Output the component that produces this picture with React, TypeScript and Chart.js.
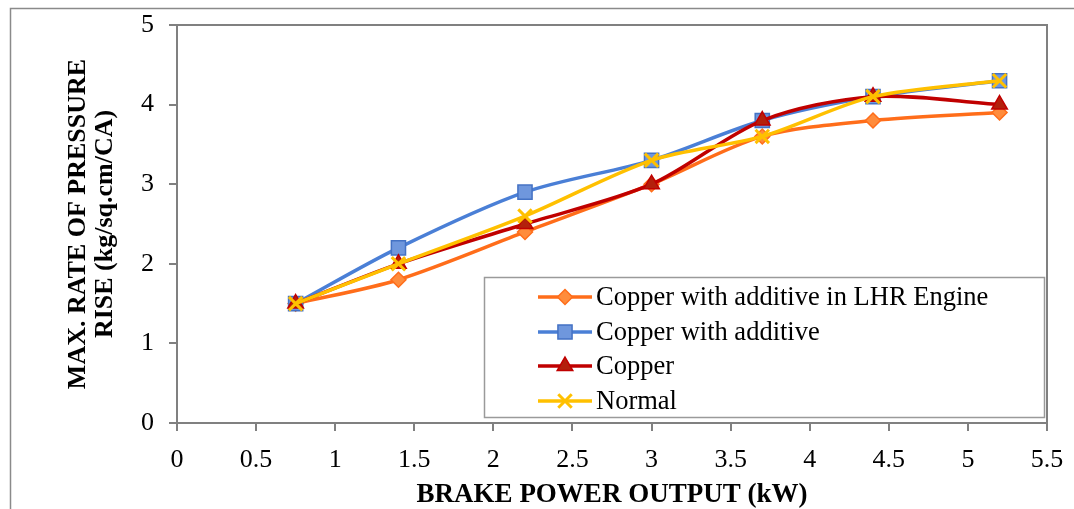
import React, { useEffect, useRef } from 'react';
import { Chart, registerables } from 'chart.js';
import { drawPoint } from 'chart.js/helpers';

Chart.register(...registerables);

const brakePower = [0.75, 1.4, 2.2, 3, 3.7, 4.4, 5.2];
const lhrValues = [1.5, 1.8, 2.4, 3.0, 3.6, 3.8, 3.9];
const additiveValues = [1.5, 2.2, 2.9, 3.3, 3.8, 4.1, 4.3];
const copperValues = [1.5, 2.0, 2.5, 3.0, 3.8, 4.1, 4.0];
const normalValues = [1.5, 2.0, 2.6, 3.3, 3.6, 4.1, 4.3];
const seriesLabels = ['Copper with additive in LHR Engine', 'Copper with additive', 'Copper', 'Normal'];
const yTitleLines = ['MAX. RATE OF PRESSURE', 'RISE (kg/sq.cm/CA)'];
const xTitle = 'BRAKE POWER OUTPUT (kW)';

const FONT = '"Liberation Serif", "Times New Roman", serif';
const AXIS = '#808080';

const toPoints = (ys: number[]) => brakePower.map((x, i) => ({ x, y: ys[i] }));

const decorPlugin = {
  id: 'decor',
  afterDraw(chart: any) {
    const ctx = chart.ctx as CanvasRenderingContext2D;
    const area = chart.chartArea;
    ctx.save();
    // outer frame
    ctx.strokeStyle = '#8a8a8a';
    ctx.lineWidth = 1.5;
    ctx.strokeRect(10.5, 8.5, 3000, 3000);
    // plot top/right border
    ctx.strokeStyle = AXIS;
    ctx.lineWidth = 2;
    ctx.beginPath();
    ctx.moveTo(area.left, area.top);
    ctx.lineTo(area.right, area.top);
    ctx.lineTo(area.right, area.bottom);
    ctx.stroke();

    // legend
    const lx = 484.5, ly = 277.5, lw = 560, lh = 140;
    ctx.fillStyle = '#ffffff';
    ctx.fillRect(lx, ly, lw, lh);
    ctx.strokeStyle = '#9a9a9a';
    ctx.lineWidth = 1.5;
    ctx.strokeRect(lx, ly, lw, lh);
    const rows = [297, 332, 366, 401];
    chart.data.datasets.forEach((ds: any, i: number) => {
      const y = rows[i];
      ctx.strokeStyle = ds.borderColor;
      ctx.lineWidth = ds.borderWidth;
      ctx.beginPath();
      ctx.moveTo(538, y);
      ctx.lineTo(592, y);
      ctx.stroke();
      ctx.fillStyle = ds.pointBackgroundColor;
      ctx.strokeStyle = ds.pointBorderColor;
      ctx.lineWidth = ds.pointBorderWidth;
      drawPoint(ctx, { pointStyle: ds.pointStyle, radius: ds.pointRadius, rotation: 0, borderWidth: ds.pointBorderWidth }, 565, y);
      ctx.fillStyle = '#000000';
      ctx.font = `26.5px ${FONT}`;
      ctx.textAlign = 'left';
      ctx.textBaseline = 'middle';
      ctx.fillText(ds.label, 596, y + 1);
    });

    // axis titles
    ctx.fillStyle = '#000000';
    ctx.font = `bold 27px ${FONT}`;
    ctx.textAlign = 'center';
    ctx.textBaseline = 'middle';
    ctx.fillText(xTitle, (area.left + area.right) / 2, 495);
    ctx.font = `bold 26px ${FONT}`;
    const cy = (area.top + area.bottom) / 2;
    yTitleLines.forEach((t, i) => {
      ctx.save();
      ctx.translate(78 + i * 27, cy);
      ctx.rotate(-Math.PI / 2);
      ctx.fillText(t, 0, 0);
      ctx.restore();
    });
    ctx.restore();
  },
};

export default function App() {
  const ref = useRef<HTMLCanvasElement | null>(null);
  useEffect(() => {
    if (!ref.current) return;
    const mk = (label: string, ys: number[], color: string, fill: string, border: string, style: string, r: number, order: number) => ({
      label,
      data: toPoints(ys),
      borderColor: color,
      backgroundColor: color,
      borderWidth: 3.5,
      tension: 0.3,
      pointStyle: style,
      pointRadius: r,
      pointBackgroundColor: fill,
      pointBorderColor: border,
      pointBorderWidth: style === 'crossRot' ? 3 : 1.5,
      order,
    });
    const chart = new Chart(ref.current, {
      type: 'line',
      data: {
        datasets: [
          mk(seriesLabels[0], lhrValues, '#FF6D1A', '#FF8C3C', '#FF6D1A', 'rectRot', 7.5, 3),
          mk(seriesLabels[1], additiveValues, '#4A7FD6', '#6F97DD', '#4472C4', 'rect', 10, 2),
          mk(seriesLabels[2], copperValues, '#C00000', '#B3200C', '#C00000', 'triangle', 9, 1),
          mk(seriesLabels[3], normalValues, '#FFC000', '#FFC000', '#FFC000', 'crossRot', 9.5, 0),
        ],
      },
      options: {
        responsive: false,
        animation: false,
        layout: { padding: { left: 0, top: 25, right: 27, bottom: 0 } },
        plugins: { legend: { display: false }, tooltip: { enabled: false } },
        scales: {
          x: {
            type: 'linear',
            min: 0,
            max: 5.5,
            ticks: {
              stepSize: 0.5,
              color: '#000',
              font: { family: FONT, size: 26 },
              padding: 14,
              maxRotation: 0,
              callback: (v: any) => String(Math.round(Number(v) * 10) / 10),
            },
            grid: { display: true, drawOnChartArea: false, drawTicks: true, tickLength: 8, color: AXIS, lineWidth: 2 },
            border: { display: true, color: AXIS, width: 2 },
            afterFit: (s: any) => { s.height = 86; s.paddingLeft = 0; s.paddingRight = 0; },
          },
          y: {
            min: 0,
            max: 5,
            ticks: { stepSize: 1, color: '#000', font: { family: FONT, size: 26 }, padding: 15 },
            grid: { display: true, drawOnChartArea: false, drawTicks: true, tickLength: 8, color: AXIS, lineWidth: 2 },
            border: { display: true, color: AXIS, width: 2 },
            afterFit: (s: any) => { s.width = 177; s.paddingTop = 0; s.paddingBottom = 0; },
          },
        },
      },
      plugins: [decorPlugin],
    } as any);
    return () => chart.destroy();
  }, []);
  return (
    <div style={{ position: 'fixed', left: 0, top: 0, width: 1074, height: 509, background: '#fff' }}>
      <canvas ref={ref} width={1074} height={509} />
    </div>
  );
}
